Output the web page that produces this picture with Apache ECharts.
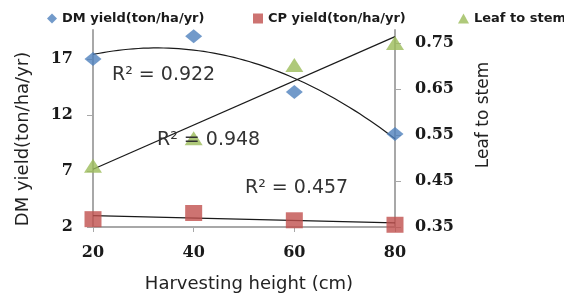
<!DOCTYPE html>
<html>
<head>
<meta charset="utf-8">
<script src="https://cdn.jsdelivr.net/npm/echarts@6/dist/echarts.min.js"></script>
<style>html,body{margin:0;padding:0;background:#fff}#c{width:564px;height:298px}</style>
</head>
<body>
<div id="c"></div>
<script>
// ---- data ----
var heights = [20, 40, 60, 80];
var dmYield = [17.0, 19.05, 14.05, 10.3];
var cpYield = [2.7, 3.25, 2.6, 2.2];
var leafStem = [0.483, 0.543, 0.702, 0.75];
var xTicks = [20, 40, 60, 80];
var dmTicks = [2, 7, 12, 17];
var leafTicks = [0.35, 0.45, 0.55, 0.65, 0.75];
var seriesNames = ['DM yield(ton/ha/yr)', 'CP yield(ton/ha/yr)', 'Leaf to stem'];
var r2Labels = ['R\u00B2 = 0.922', 'R\u00B2 = 0.948', 'R\u00B2 = 0.457'];

// ---- least-squares trendlines (as in the original spreadsheet chart) ----
function solve3(A, b) {
  var M = A.map(function (r, i) { return r.concat([b[i]]); });
  for (var i = 0; i < 3; i++) {
    var p = i;
    for (var k = i + 1; k < 3; k++) if (Math.abs(M[k][i]) > Math.abs(M[p][i])) p = k;
    var t = M[i]; M[i] = M[p]; M[p] = t;
    for (var k2 = 0; k2 < 3; k2++) {
      if (k2 === i) continue;
      var f = M[k2][i] / M[i][i];
      for (var j = i; j < 4; j++) M[k2][j] -= f * M[i][j];
    }
  }
  return [M[0][3] / M[0][0], M[1][3] / M[1][1], M[2][3] / M[2][2]];
}
function polyFit2(xs, ys) {
  var S = [0, 0, 0, 0, 0], T = [0, 0, 0];
  for (var i = 0; i < xs.length; i++) {
    for (var p = 0; p < 5; p++) S[p] += Math.pow(xs[i], p);
    for (var q = 0; q < 3; q++) T[q] += ys[i] * Math.pow(xs[i], q);
  }
  var c = solve3([[S[0], S[1], S[2]], [S[1], S[2], S[3]], [S[2], S[3], S[4]]], T);
  return function (x) { return c[0] + c[1] * x + c[2] * x * x; };
}
function linFit(xs, ys) {
  var n = xs.length, sx = 0, sy = 0, sxx = 0, sxy = 0;
  for (var i = 0; i < n; i++) { sx += xs[i]; sy += ys[i]; sxx += xs[i] * xs[i]; sxy += xs[i] * ys[i]; }
  var b = (n * sxy - sx * sy) / (n * sxx - sx * sx), a = (sy - b * sx) / n;
  return function (x) { return a + b * x; };
}
var fDM = polyFit2(heights, dmYield);
var fCP = linFit(heights, cpYield);
var fLS = linFit(heights, leafStem);
var dmTrend = [];
for (var x = heights[0]; x <= heights[heights.length - 1]; x += 1) dmTrend.push([x, fDM(x)]);
var cpTrend = [[heights[0], fCP(heights[0])], [heights[3], fCP(heights[3])]];
var lsTrend = [[heights[0], fLS(heights[0])], [heights[3], fLS(heights[3])]];

function pairs(ys) { return heights.map(function (h, i) { return [h, ys[i]]; }); }

var axisCol = '#a8a8a8';
var labelFont = { fontFamily: 'DejaVu Serif', fontWeight: 'bold', fontSize: 16, color: '#1a1a1a' };
var legendText = { fontFamily: 'DejaVu Sans', fontWeight: 'bold', fontSize: 13, color: '#1a1a1a' };

var chart = echarts.init(document.getElementById('c'), null, { renderer: 'canvas' });
chart.setOption({
  animation: false,
  backgroundColor: '#fff',
  grid: { left: 93, right: 169, top: 30, bottom: 71 },
  legend: [
    { data: [seriesNames[0]], left: 47, top: 12, padding: 0, itemWidth: 10, itemHeight: 10, itemGap: 0, textStyle: legendText },
    { data: [seriesNames[1]], left: 253, top: 12, padding: 0, itemWidth: 10, itemHeight: 10, itemGap: 0, textStyle: legendText },
    { data: [seriesNames[2]], left: 458, top: 12, padding: 0, itemWidth: 11, itemHeight: 10, itemGap: 0, textStyle: legendText }
  ],
  xAxis: {
    type: 'value', min: 20, max: 80, interval: 20,
    axisLine: { lineStyle: { color: axisCol, width: 2 } },
    axisTick: { show: true, length: 5, lineStyle: { color: axisCol, width: 1 }, customValues: xTicks },
    axisLabel: Object.assign({ margin: 18, customValues: xTicks }, labelFont),
    splitLine: { show: false }
  },
  yAxis: [
    {
      type: 'value', min: 2, max: 19.6, position: 'left',
      axisLine: { show: true, lineStyle: { color: axisCol, width: 2 } },
      axisTick: { show: true, length: 6, lineStyle: { color: axisCol, width: 1 }, customValues: dmTicks },
      axisLabel: Object.assign({ margin: 20, customValues: dmTicks }, labelFont),
      splitLine: { show: false }
    },
    {
      type: 'value', min: 0.35, max: 0.778, position: 'right',
      axisLine: { show: true, lineStyle: { color: axisCol, width: 2 } },
      axisTick: { show: true, length: 6, lineStyle: { color: axisCol, width: 1 }, customValues: leafTicks },
      axisLabel: Object.assign({ margin: 20, customValues: leafTicks, formatter: function (v) { return v.toFixed(2); } }, labelFont),
      splitLine: { show: false }
    }
  ],
  series: [
    { type: 'line', data: dmTrend, yAxisIndex: 0, showSymbol: false, silent: true, smooth: false,
      lineStyle: { color: '#1a1a1a', width: 1.2 }, z: 1 },
    { type: 'line', data: cpTrend, yAxisIndex: 0, showSymbol: false, silent: true,
      lineStyle: { color: '#1a1a1a', width: 1.2 }, z: 1 },
    { type: 'line', data: lsTrend, yAxisIndex: 1, showSymbol: false, silent: true,
      lineStyle: { color: '#1a1a1a', width: 1.2 }, z: 1 },
    { name: seriesNames[0], type: 'scatter', data: pairs(dmYield), yAxisIndex: 0,
      symbol: 'diamond', symbolSize: [17, 14], itemStyle: { color: '#4F81BD' }, z: 3 },
    { name: seriesNames[1], type: 'scatter', data: pairs(cpYield), yAxisIndex: 0,
      symbol: 'rect', symbolSize: [17, 16], itemStyle: { color: '#C0504D' }, z: 3 },
    { name: seriesNames[2], type: 'scatter', data: pairs(leafStem), yAxisIndex: 1,
      symbol: 'triangle', symbolSize: [18, 14], itemStyle: { color: '#9BBB59' }, z: 3 }
  ],
  graphic: [
    { type: 'text', left: 112, top: 66, z: 10, style: { text: r2Labels[0], font: '19px "DejaVu Sans"', fill: '#333' } },
    { type: 'text', left: 157, top: 131, z: 10, style: { text: r2Labels[1], font: '19px "DejaVu Sans"', fill: '#333' } },
    { type: 'text', left: 245, top: 179, z: 10, style: { text: r2Labels[2], font: '19px "DejaVu Sans"', fill: '#333' } },
    { type: 'text', x: 249, y: 284, style: { text: 'Harvesting height (cm)', font: '18px "DejaVu Sans"', fill: '#222', align: 'center', verticalAlign: 'middle' } },
    { type: 'text', x: 23, y: 139, rotation: Math.PI / 2, style: { text: 'DM yield(ton/ha/yr)', font: '18px "DejaVu Sans"', fill: '#222', align: 'center', verticalAlign: 'middle' } },
    { type: 'text', x: 484, y: 115, rotation: Math.PI / 2, style: { text: 'Leaf to stem', font: '17px "DejaVu Sans"', fill: '#222', align: 'center', verticalAlign: 'middle' } }
  ]
});
</script>
</body>
</html>
